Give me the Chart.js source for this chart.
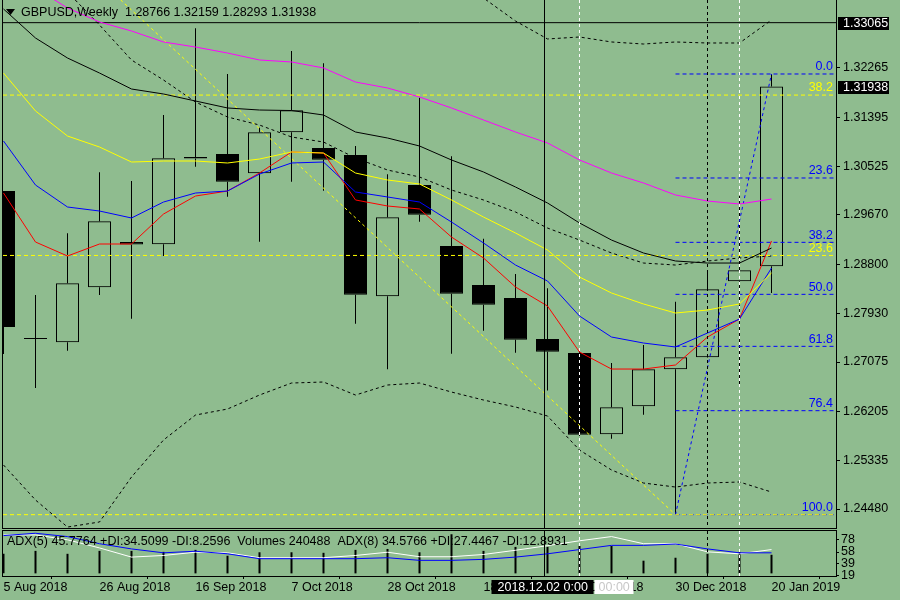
<!DOCTYPE html>
<html lang="en">
<head>
    <meta charset="UTF-8">
    <title>GBPUSD Weekly</title>
    <script src="https://cdn.jsdelivr.net/npm/chart.js"></script>
    <style>
        html, body { margin: 0; padding: 0; background: #8fbc8f; }
        #wrap { position: relative; width: 900px; height: 600px; overflow: hidden; background: #8fbc8f; }
        #priceChart { position: absolute; left: 0; top: 0; }
        #indChart { position: absolute; left: 0; top: 530px; }
    </style>
</head>
<body>
<div id="wrap">
    <canvas id="priceChart" width="900" height="530"></canvas>
    <canvas id="indChart" width="900" height="70"></canvas>
</div>

<script>
    // Weekly bars, one per week (index 0 = 5 Aug 2018)
    const weeks = ['5 Aug 2018', '12 Aug 2018', '19 Aug 2018', '26 Aug 2018', '2 Sep 2018', '9 Sep 2018',
        '16 Sep 2018', '23 Sep 2018', '30 Sep 2018', '7 Oct 2018', '14 Oct 2018', '21 Oct 2018',
        '28 Oct 2018', '4 Nov 2018', '11 Nov 2018', '18 Nov 2018', '25 Nov 2018', '2 Dec 2018',
        '9 Dec 2018', '16 Dec 2018', '23 Dec 2018', '30 Dec 2018', '6 Jan 2019', '13 Jan 2019', '20 Jan 2019'];
    const xTickIdx = [0, 3, 6, 9, 12, 15, 18, 21, 24];

    const open  = [1.30093, 1.27488, 1.27423, 1.28394, 1.29193, 1.29153, 1.30694, 1.30747, 1.30406, 1.31130, 1.30852, 1.30729, 1.28235,
                   1.30199, 1.29123, 1.28434, 1.28205, 1.27481, 1.27234, 1.25799, 1.26293, 1.26946, 1.27158, 1.28499, 1.28766];
    const high  = [1.30093, 1.28258, 1.29347, 1.30424, 1.30270, 1.31435, 1.32965, 1.32159, 1.31211, 1.32565, 1.32348, 1.30888, 1.30388,
                   1.31740, 1.30706, 1.29251, 1.28628, 1.28376, 1.27287, 1.27057, 1.27375, 1.28139, 1.28658, 1.30005, 1.32159];
    const low   = [1.27216, 1.26616, 1.27274, 1.28258, 1.27839, 1.28946, 1.30522, 1.29993, 1.29198, 1.30258, 1.30099, 1.27751, 1.26946,
                   1.29551, 1.27221, 1.27627, 1.27239, 1.26572, 1.25769, 1.25721, 1.26145, 1.24380, 1.27150, 1.26669, 1.28293];
    const close = [1.27693, 1.27481, 1.28464, 1.29559, 1.29149, 1.30671, 1.30667, 1.30258, 1.31130, 1.31518, 1.30646, 1.28263, 1.29629,
                   1.29675, 1.28281, 1.28086, 1.27469, 1.27257, 1.25792, 1.26275, 1.26946, 1.27158, 1.28358, 1.28694, 1.31938];

    // moving averages
    const maRed     = [1.30058, 1.29193, 1.28946, 1.29158, 1.29158, 1.29687, 1.30005, 1.30093, 1.30411, 1.30782, 1.30764, 1.29935, 1.29829,
                       1.29776, 1.29281, 1.28911, 1.28399, 1.28063, 1.27251, 1.26951, 1.26951, 1.27022, 1.27516, 1.27834, 1.29211];
    const maBlue    = [1.30976, 1.30199, 1.29811, 1.29740, 1.29617, 1.29899, 1.30058, 1.30093, 1.30393, 1.30588, 1.30605, 1.30076, 1.29988,
                       1.29899, 1.29546, 1.29176, 1.28787, 1.28505, 1.27887, 1.27516, 1.27410, 1.27340, 1.27587, 1.27834, 1.28734];
    const maYellow  = [1.32176, 1.31506, 1.31064, 1.30870, 1.30605, 1.30623, 1.30623, 1.30588, 1.30658, 1.30782, 1.30764, 1.30411, 1.30288,
                       1.30217, 1.29935, 1.29634, 1.29352, 1.29052, 1.28575, 1.28293, 1.28099, 1.27940, 1.27993, 1.28099, 1.28646];
    const maBlack   = [1.33306, 1.32794, 1.32441, 1.32176, 1.31894, 1.31806, 1.31682, 1.31559, 1.31523, 1.31514, 1.31435, 1.31135, 1.31029,
                       1.30888, 1.30641, 1.30429, 1.30164, 1.29882, 1.29529, 1.29228, 1.28999, 1.28858, 1.28822, 1.28822, 1.29087];
    const maMagenta = [1.33995, 1.33677, 1.33324, 1.33077, 1.32918, 1.32724, 1.32635, 1.32529, 1.32406, 1.32371, 1.32265, 1.32017, 1.31912,
                       1.31753, 1.31559, 1.31347, 1.31135, 1.30941, 1.30641, 1.30411, 1.30235, 1.30023, 1.29917, 1.29864, 1.29952];

    // bollinger bands (middle, upper, lower)
    const bandMid   = [null, 1.34259, 1.33606, 1.33024, 1.32406, 1.32053, 1.31664, 1.31400, 1.31258, 1.31047, 1.30958, 1.30676, 1.30464,
                       1.30341, 1.30111, 1.29935, 1.29723, 1.29440, 1.29228, 1.28999, 1.28822, 1.28787, 1.28858, 1.28911, 1.28946];
    const bandUpper = [null, null, null, null, null, null, null, null, null, null, null, null, null,
                       null, 1.33680, 1.33500, 1.33094, 1.32777, 1.32812, 1.32724, 1.32688, 1.32724, 1.32706, 1.32706, 1.33112];
    const bandLower = [1.25257, 1.24639, 1.24162, 1.24251, 1.25045, 1.25698, 1.26139, 1.26245, 1.26492, 1.26704, 1.26722, 1.26492, 1.26669,
                       1.26704, 1.26545, 1.26404, 1.26281, 1.26122, 1.25521, 1.25169, 1.24939, 1.24868, 1.24939, 1.24957, 1.24780];

    // lower window: volumes and the two ADX lines
    const volumes  = [253000, 291000, 253000, 291000, 291000, 278000, 304000, 228000, 273000, 273000, 266000, 304000, 316000,
                      273000, 506000, 291000, 342000, 342000, 354000, 354000, 164000, 202000, 253000, 278000, 240488];
    const adxBlue  = [84.9, 88.7, 83.3, 71.6, 63.1, 56.7, 59.3, 55.1, 47.1, 47.1, 47.1, 47.1, 48.7,
                      44.4, 44.4, 46.0, 49.7, 55.1, 62.0, 68.9, 68.9, 71.1, 63.1, 56.7, 56.7];
    const adxWhite = [86.0, 86.0, 78.0, 64.7, 49.7, 52.4, 57.7, 56.7, 48.7, 48.7, 48.7, 52.4, 57.7,
                      50.3, 50.3, 54.0, 60.9, 68.4, 76.4, 83.3, 71.6, 71.6, 58.3, 55.1, 62.0];

    const priceTicks = [1.32265, 1.31395, 1.30525, 1.29670, 1.28800, 1.27930, 1.27075, 1.26205, 1.25335, 1.24480];
    const adxTicks = [19, 39, 58, 78];
    const hLinePrice = 1.33065;

    // fibonacci: blue from the Jan 2019 high back to the Jan 3 low, yellow from the Apr 2018 high
    const fibLevels = [0, 23.6, 38.2, 50, 61.8, 76.4, 100];
    const fibLowIdx = 21, fibLow = 1.24380;
    const fibBlueIdx = 24, fibBlueHigh = 1.32159;
    const fibYellowIdx = -16, fibYellowHigh = 1.43770;

    const crosshairAt = 16.9;
    const markLines = [18, 22, 23];
    const indicatorTitle = 'ADX(5) 45.7764 +DI:34.5099 -DI:8.2596  Volumes 240488  ADX(8) 34.5766 +DI:27.4467 -DI:12.8931';

    // ---- layout constants (pixels) ----
    const FONT = '12.5px "Liberation Sans", Arial, sans-serif';
    const xMin = -0.5 / 32;
    const xMax = xMin + 833 / 32;
    Chart.defaults.font.family = '"Liberation Sans", Arial, sans-serif';
    Chart.defaults.font.size = 12.5;
    Chart.defaults.color = '#000';

    const pts = arr => arr.map((v, i) => v == null ? null : { x: i, y: v }).filter(p => p);
    const lineDs = (data, color, dash, order) => ({
        type: 'line', data: data, borderColor: color, borderWidth: 1, borderDash: dash || [],
        pointRadius: 0, tension: 0, fill: false, order: order || 1
    });
    const fibBluePrice = l => fibBlueHigh - l / 100 * (fibBlueHigh - fibLow);
    const fibYellowPrice = l => fibLow + l / 100 * (fibYellowHigh - fibLow);

    const datasets = [
        // wicks above and below the body
        { type: 'bar', data: open.map((o, i) => ({ x: i, y: [Math.max(o, close[i]), high[i]] })),
          backgroundColor: '#000', barThickness: 1, grouped: false, inflateAmount: 0, order: 10 },
        { type: 'bar', data: open.map((o, i) => ({ x: i, y: [low[i], Math.min(o, close[i])] })),
          backgroundColor: '#000', barThickness: 1, grouped: false, inflateAmount: 0, order: 10 },
        // bodies: hollow for up weeks, black for down weeks
        { type: 'bar', data: open.map((o, i) => ({ x: i, y: [o, close[i]] })),
          backgroundColor: open.map((o, i) => close[i] > o ? 'rgba(0,0,0,0)' : '#000'),
          borderColor: '#000', borderWidth: 1, borderSkipped: false, minBarLength: 1,
          barThickness: 23, grouped: false, inflateAmount: 0, order: 9 },
        lineDs(pts(bandMid), '#000', [3, 3], 3),
        lineDs(pts(bandUpper), '#000', [3, 3], 3),
        lineDs(pts(bandLower), '#000', [3, 3], 3),
        lineDs(pts(maMagenta), '#ff00ff'),
        lineDs(pts(maBlack), '#000'),
        lineDs(pts(maYellow), '#ffff00'),
        lineDs(pts(maBlue), '#0000ff'),
        lineDs(pts(maRed), '#ff0000'),
        lineDs([{ x: xMin, y: hLinePrice }, { x: xMax, y: hLinePrice }], '#000', [], 2),
        lineDs([{ x: fibYellowIdx, y: fibYellowHigh }, { x: fibLowIdx, y: fibLow }], '#ffff00', [3, 3], 2),
        lineDs([{ x: fibLowIdx, y: fibLow }, { x: fibBlueIdx, y: fibBlueHigh }], '#0000ff', [3, 3], 2)
    ];
    fibLevels.forEach(l => {
        const p = fibYellowPrice(l);
        datasets.push(lineDs([{ x: xMin, y: p }, { x: xMax, y: p }], '#ffff00', [4, 3], 2));
    });
    fibLevels.forEach(l => {
        const p = fibBluePrice(l);
        datasets.push(lineDs([{ x: fibLowIdx, y: p }, { x: xMax, y: p }], '#0000ff', [4, 3], 2));
    });

    const markStyles = [
        { color: '#fff', dash: [3, 3] },
        { color: '#000', dash: [3, 3] },
        { color: '#fff', dash: [3, 3] }
    ];

    function drawMarks(chart) {
        const { ctx, chartArea: a, scales: { x } } = chart;
        ctx.save();
        ctx.lineWidth = 1;
        const draw = (idx, color, dash) => {
            const px = Math.floor(x.getPixelForValue(idx)) + 0.5;
            ctx.strokeStyle = color;
            ctx.setLineDash(dash);
            ctx.beginPath();
            ctx.moveTo(px, a.top);
            ctx.lineTo(px, a.bottom);
            ctx.stroke();
        };
        draw(crosshairAt, '#000', []);
        markLines.forEach((idx, i) => draw(idx, markStyles[i].color, markStyles[i].dash));
        ctx.restore();
    }

    function drawFrame(chart) {
        const { ctx, chartArea: a } = chart;
        ctx.save();
        ctx.strokeStyle = '#000';
        ctx.lineWidth = 1;
        ctx.strokeRect(a.left - 0.5, a.top - 0.5, a.right - a.left + 1, a.bottom - a.top + 1);
        ctx.restore();
    }

    const priceOverlay = {
        id: 'priceOverlay',
        afterDatasetsDraw(chart) {
            const { ctx, chartArea: a, scales: { y } } = chart;
            drawMarks(chart);
            ctx.save();
            ctx.font = FONT;
            ctx.textAlign = 'right';
            ctx.textBaseline = 'bottom';
            fibLevels.forEach(l => {
                const py = y.getPixelForValue(fibYellowPrice(l));
                if (l === 0 || py < a.top + 12 || py > a.bottom) return;
                ctx.fillStyle = '#ffff00';
                ctx.fillText(l.toFixed(1), a.right - 3, py - 1);
            });
            fibLevels.forEach(l => {
                const py = y.getPixelForValue(fibBluePrice(l));
                ctx.fillStyle = '#0000ff';
                ctx.fillText(l.toFixed(1), a.right - 3, py - 1);
            });
            // header
            const n = close.length - 1;
            ctx.fillStyle = '#000';
            ctx.beginPath();
            ctx.moveTo(6, 9); ctx.lineTo(15, 9); ctx.lineTo(10.5, 15); ctx.closePath();
            ctx.fill();
            ctx.textAlign = 'left';
            ctx.textBaseline = 'middle';
            ctx.fillText('GBPUSD,Weekly  ' + [open[n], high[n], low[n], close[n]].map(v => v.toFixed(5)).join(' '), 21, 13);
            ctx.restore();
        },
        afterDraw(chart) {
            const { ctx, chartArea: a, scales: { y } } = chart;
            drawFrame(chart);
            ctx.save();
            ctx.font = FONT;
            ctx.textAlign = 'left';
            ctx.textBaseline = 'middle';
            [hLinePrice, close[close.length - 1]].forEach(v => {
                const py = Math.round(y.getPixelForValue(v));
                ctx.fillStyle = '#000';
                ctx.fillRect(a.right + 2, py - 6, 51, 13);
                ctx.fillStyle = '#fff';
                ctx.fillText(v.toFixed(5), a.right + 7, py + 0.5);
            });
            ctx.restore();
        }
    };

    new Chart(document.getElementById('priceChart'), {
        type: 'bar',
        data: { datasets: datasets },
        options: {
            responsive: false,
            animation: false,
            events: [],
            layout: { padding: { left: 3, top: 0, right: 0, bottom: 2 } },
            plugins: { legend: { display: false }, tooltip: { enabled: false } },
            scales: {
                x: { type: 'linear', min: xMin, max: xMax, offset: false, display: false },
                y: {
                    position: 'right', min: 1.24145, max: 1.33465,
                    afterBuildTicks: s => { s.ticks = priceTicks.map(v => ({ value: v })); },
                    afterFit: s => { s.width = 64; s.paddingTop = 0; s.paddingBottom = 0; },
                    ticks: { callback: v => v.toFixed(5), padding: 3, autoSkip: false, color: '#000' },
                    grid: { drawOnChartArea: false, drawTicks: true, tickLength: 4, color: '#000' },
                    border: { display: false }
                }
            }
        },
        plugins: [priceOverlay]
    });

    const indOverlay = {
        id: 'indOverlay',
        afterDatasetsDraw(chart) {
            const { ctx } = chart;
            drawMarks(chart);
            ctx.save();
            ctx.font = FONT;
            ctx.fillStyle = '#000';
            ctx.textAlign = 'left';
            ctx.textBaseline = 'middle';
            ctx.fillText(indicatorTitle, 7, 11.5);
            ctx.restore();
        },
        afterDraw(chart) {
            const { ctx, scales: { x } } = chart;
            drawFrame(chart);
            // crosshair time label
            const px = Math.floor(x.getPixelForValue(crosshairAt)) + 0.5;
            ctx.save();
            ctx.font = FONT;
            ctx.textBaseline = 'middle';
            ctx.textAlign = 'left';
            ctx.fillStyle = '#000';
            ctx.fillRect(px - 53, 50, 102, 14);
            ctx.fillStyle = '#fff';
            ctx.fillText('2018.12.02 0:00', px - 47, 57.5);
            ctx.fillStyle = '#fff';
            ctx.fillRect(px + 50, 50, 39, 14);
            ctx.fillStyle = '#c8c8c8';
            ctx.fillText('00:00', px + 54, 57.5);
            ctx.restore();
        }
    };

    new Chart(document.getElementById('indChart'), {
        type: 'bar',
        data: {
            datasets: [
                { type: 'bar', yAxisID: 'yVol', data: pts(volumes), backgroundColor: '#000',
                  barThickness: 2, grouped: false, inflateAmount: 0, order: 5 },
                Object.assign(lineDs(pts(adxWhite), '#ffffff', [], 2), { yAxisID: 'yAdx' }),
                Object.assign(lineDs(pts(adxBlue), '#0000ff', [], 1), { yAxisID: 'yAdx' })
            ]
        },
        options: {
            responsive: false,
            animation: false,
            events: [],
            layout: { padding: { left: 3, top: 1, right: 0, bottom: 0 } },
            plugins: { legend: { display: false }, tooltip: { enabled: false } },
            scales: {
                x: {
                    type: 'linear', min: xMin, max: xMax, offset: false,
                    afterBuildTicks: s => { s.ticks = xTickIdx.map(v => ({ value: v })); },
                    afterFit: s => { s.height = 24; s.paddingLeft = 0; s.paddingRight = 0; },
                    ticks: { callback: v => weeks[v], align: 'start', padding: 1, autoSkip: false,
                             maxRotation: 0, minRotation: 0, color: '#000' },
                    grid: { drawOnChartArea: false, drawTicks: true, tickLength: 3, color: '#000' },
                    border: { display: false }
                },
                yAdx: {
                    position: 'right', min: 18.8, max: 92.4,
                    afterBuildTicks: s => { s.ticks = adxTicks.map(v => ({ value: v })); },
                    afterFit: s => { s.width = 64; s.paddingTop = 0; s.paddingBottom = 0; },
                    ticks: { padding: 2, autoSkip: false, color: '#000' },
                    grid: { drawOnChartArea: false, drawTicks: true, tickLength: 3, color: '#000' },
                    border: { display: false }
                },
                yVol: { position: 'left', display: false, min: -34000, max: 548000 }
            }
        },
        plugins: [indOverlay]
    });
</script>
</body>
</html>
